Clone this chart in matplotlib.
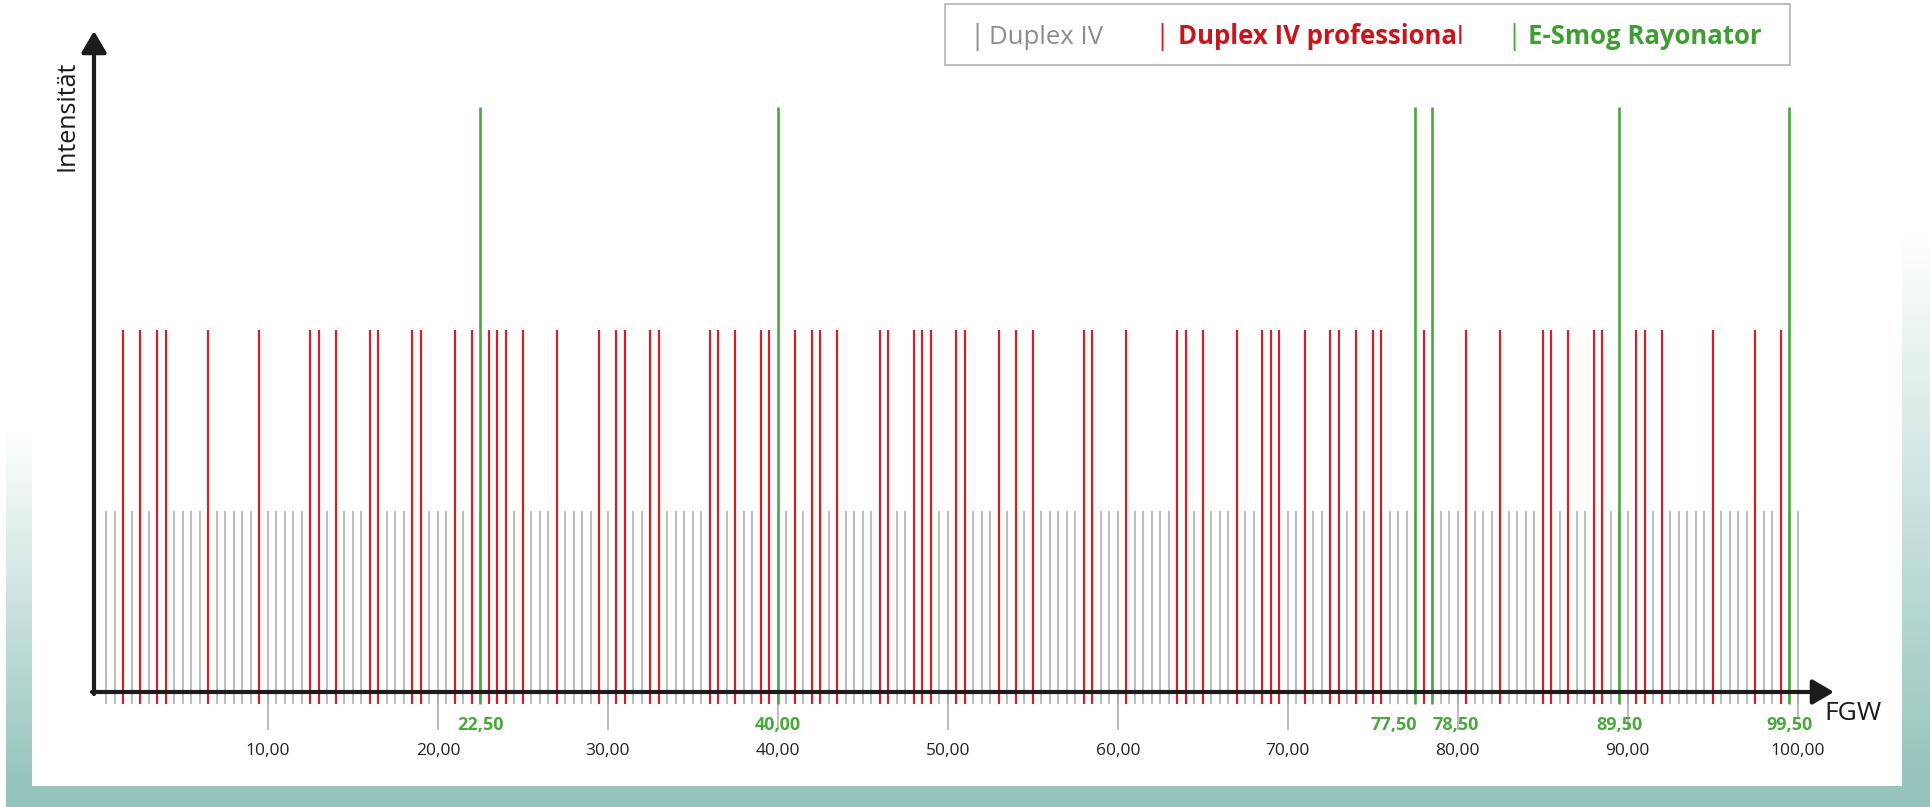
import numpy as np
import matplotlib
matplotlib.use("Agg")
import matplotlib.pyplot as plt
from matplotlib.patches import Rectangle

plt.rcParams['font.family'] = ['Open Sans', 'DejaVu Sans']

# ---------------------------------------------------------------------------
# Data (FGW positions)
# ---------------------------------------------------------------------------
# Duplex IV: a line at every half step from 0,5 to 100,00
duplex_iv = np.arange(0.5, 100.01, 0.5)

duplex_pro = [1.5, 2.5, 3.5, 4.0, 6.5, 9.5, 12.5, 13.0, 14.0, 16.0, 16.5,
              18.5, 19.0, 21.0, 22.0, 23.0, 23.5, 24.0, 25.0, 27.0, 29.5,
              30.5, 31.0, 32.5, 33.0, 36.0, 36.5, 37.5, 39.0, 39.5, 41.0,
              42.0, 42.5, 43.5, 46.0, 46.5, 48.0, 48.5, 49.0, 50.5, 51.0,
              53.0, 54.0, 55.0, 58.0, 58.5, 60.5, 63.5, 64.0, 65.0, 67.0,
              68.5, 69.0, 69.5, 71.0, 72.5, 73.0, 74.0, 75.0, 75.5, 78.0,
              80.5, 82.5, 85.0, 85.5, 86.5, 88.0, 88.5, 90.5, 91.0, 92.0,
              95.0, 97.5, 99.0]

e_smog = [22.5, 40.0, 77.5, 78.5, 89.5, 99.5]

# relative intensities of the three series
int_duplex = 1.0
int_pro = 2.0
int_smog = 3.23

major_ticks = [10, 20, 30, 40, 50, 60, 70, 80, 90, 100]
major_labels = ["10,00", "20,00", "30,00", "40,00", "50,00",
                "60,00", "70,00", "80,00", "90,00", "100,00"]
smog_labels = ["22,50", "40,00", "77,50", "78,50", "89,50", "99,50"]
smog_align = ['center', 'center', 'right', 'left', 'center', 'center']

GRAY = '#a9a9a9'
RED = '#d0202a'
GREEN = '#4aa83c'
AXIS = '#1c1c1c'
TEAL = np.array([148, 196, 188]) / 255.0

W, H = 1930, 807
fig = plt.figure(figsize=(W / 100, H / 100), dpi=100)

# ---------------------------------------------------------------------------
# Background: white panel with teal gradient strips
# ---------------------------------------------------------------------------
bg = np.ones((H, W, 3))
rows = np.arange(H)[:, None, None]
t_left = np.clip((rows - 430) / (786 - 430), 0, 1)
t_right = np.clip((rows - 230) / (786 - 230), 0, 1)
bg[:, 6:32] = 1 - t_left * (1 - TEAL)
bg[:, 1902:] = 1 - t_right * (1 - TEAL)
bg[786:, 6:] = TEAL
bax = fig.add_axes([0, 0, 1, 1], zorder=-1)
bax.imshow(bg, aspect='auto', interpolation='bilinear')
bax.axis('off')

# ---------------------------------------------------------------------------
# Main axes spanning the figure, data units mapped onto pixels
# ---------------------------------------------------------------------------
px_x = 16.997   # pixels per FGW unit
px_y = 181.0    # pixels per intensity unit
x0, y0 = 98, 692
ax = fig.add_axes([0, 0, 1, 1])
ax.set_xlim(-x0 / px_x, (W - x0) / px_x)
ax.set_ylim(-(H - y0) / px_y, y0 / px_y)
ax.axis('off')
ax.patch.set_alpha(0)

def py(r):
    return (y0 - r) / px_y

def pxx(c):
    return (c - x0) / px_x

low = py(704)
ax.vlines(duplex_iv, low, int_duplex, color=GRAY, lw=1.1)
ax.vlines(major_ticks[:-1], py(730), 0, color=GRAY, lw=1.1)
ax.vlines(major_ticks[-1:], py(718), 0, color=GRAY, lw=1.1)
ax.vlines(duplex_pro, low, int_pro, color=RED, lw=1.6)
ax.vlines(e_smog, low, int_smog, color=GREEN, lw=1.9)

# axes with arrows
arrow = dict(arrowstyle='-|>,head_length=0.65,head_width=0.38', lw=3,
             color=AXIS, mutation_scale=20, shrinkA=0, shrinkB=0)
ax.annotate('', xy=(pxx(94), py(31)), xytext=(pxx(94), py(694)),
            arrowprops=arrow)
ax.annotate('', xy=(pxx(1834), py(692)), xytext=(pxx(92), py(692)),
            arrowprops=arrow)

for v, lab in zip(major_ticks, major_labels):
    ax.text(v, py(751), lab, ha='center', va='center', fontsize=12.5,
            color='#222222')
for v, lab, al in zip(e_smog, smog_labels, smog_align):
    shift = {'center': 0, 'right': 2 / px_x, 'left': 0}[al]
    ax.text(v + shift, py(725), lab, ha=al, va='center', fontsize=13,
            color=GREEN, fontweight='bold')

ax.text(pxx(1824), py(713), 'FGW', ha='left', va='center', fontsize=19,
        color='#1a1a1a')
ax.text(pxx(67), py(116), 'Intensität', ha='center', va='center',
        fontsize=18, rotation=90, color='#1a1a1a')

# ---------------------------------------------------------------------------
# Legend box
# ---------------------------------------------------------------------------
fig.patches.append(Rectangle((945 / W, 1 - 65 / H), (1790 - 945) / W,
                             (65 - 4) / H, transform=fig.transFigure,
                             facecolor='white', edgecolor='#b4b4b4', lw=1.2))
ly = 1 - 37 / H
items = [(977, 989, 'Duplex IV', '#8c8c8c', '#8c8c8c', 'normal'),
         (1162, 1178, 'Duplex IV professiona', RED, '#c8141c', 'bold'),
         (1514, 1528, 'E-Smog Rayonator', GREEN, '#3f9e33', 'bold')]
for bx, tx, lab, bcol, tcol, wt in items:
    fig.text(bx / W, ly, '|', ha='center', va='center', fontsize=20,
             color=bcol)
    t = fig.text(tx / W, ly, lab, ha='left', va='center', fontsize=18.5,
                 color=tcol, fontweight=wt)
    if lab.endswith('professiona'):
        fig.canvas.draw()
        bb = t.get_window_extent()
        fig.text(bb.x1 / W, ly, 'l', ha='left', va='center', fontsize=18.5,
                 color=tcol)

fig.savefig('out.png', dpi=100)
